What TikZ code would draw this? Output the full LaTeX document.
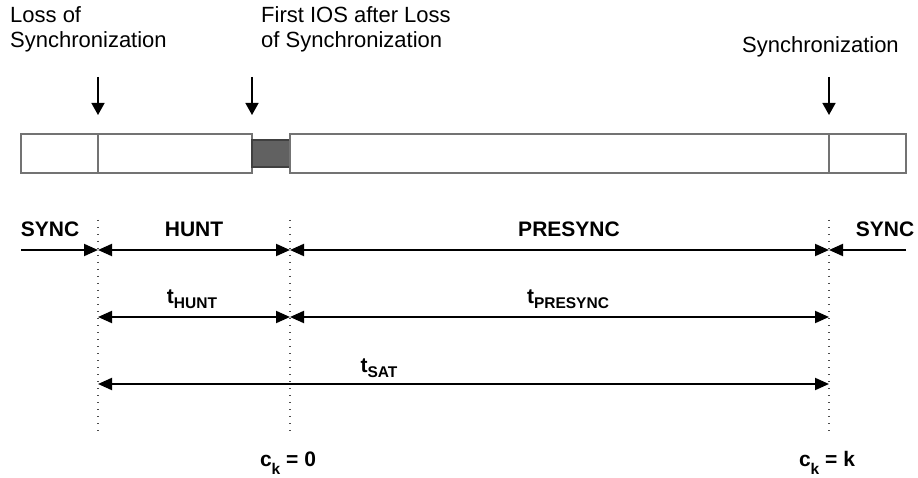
\documentclass[tikz,border=0pt]{standalone}
\usepackage{fontspec}
\setmainfont{Liberation Sans}
\usetikzlibrary{arrows.meta}

\tikzset{
  note/.style={font=\fontsize{22}{25.5}\selectfont, align=left, inner sep=0pt},
  phase/.style={font=\fontsize{21}{24}\selectfont\bfseries, inner sep=0pt, anchor=base},
  timing/.style={font=\fontsize{21}{24}\selectfont\bfseries, inner sep=0pt, anchor=base},
  span/.style={line width=2pt, {Triangle[length=14pt,width=12pt]}-{Triangle[length=14pt,width=12pt]}},
  eventarrow/.style={line width=1.5pt, -{Triangle[length=12pt,width=13pt]}},
  guide/.style={line width=1.6pt, black!70, dash pattern=on 1.4pt off 5.6pt},
  frame/.style={draw=black!55, line width=1.2pt, fill=white}
}
\newcommand{\sub}[2]{#1\raisebox{-5pt}{\fontsize{15.5}{15.5}\selectfont #2}}

\begin{document}
\begin{tikzpicture}[x=1pt,y=-1pt]
    \useasboundingbox (0,0) rectangle (918,478);

    % Texts above the frame
    \node[note, anchor=north west] (loss) at (10,6) {Loss of\\Synchronization};
    \node[note, anchor=north west] (first) at (261,6) {First IOS after Loss\\of Synchronization};
    \node[note, anchor=base west] (sync) at (742,53) {Synchronization};

    % Event markers
    \foreach \n/\x in {lossmark/98, iosmark/252, syncmark/829} {
        \coordinate (\n top) at (\x,77);
        \coordinate (\n tip) at (\x,115);
        \draw[eventarrow] (\n top) -- (\n tip);
    }

    % Bit stream
    \draw[frame] (21,134) rectangle (252,173);
    \draw[black!55, line width=1.2pt] (98,134) -- (98,173);
    \draw[draw=black!75, fill=black!62, line width=1.2pt] (252,140) rectangle (290,167);
    \draw[frame] (290,134) rectangle (906,173);
    \draw[black!55, line width=1.2pt] (829,134) -- (829,173);

    % Dotted guides and arrow ends
    \foreach \n/\x in {a/98, b/290, c/829} {
        \coordinate (\n top) at (\x,220);
        \coordinate (\n bot) at (\x,436);
        \draw[guide] (\n top) -- (\n bot);
        \coordinate (\n1) at (\x,250);
        \coordinate (\n2) at (\x,317);
        \coordinate (\n3) at (\x,384);
    }
    \coordinate (west1) at (21,250);
    \coordinate (east1) at (906,250);

    % States
    \draw[line width=2pt, -{Triangle[length=14pt,width=12pt]}] (west1) -- (a1);
    \draw[span] (a1) -- (b1);
    \draw[span] (b1) -- (c1);
    \draw[line width=2pt, -{Triangle[length=14pt,width=12pt]}] (east1) -- (c1);
    \node[phase] (syncl) at (50,237) {SYNC};
    \node[phase] (hunt) at (194,237) {HUNT};
    \node[phase] (presync) at (569,237) {PRESYNC};
    \node[phase] (syncr) at (885,237) {SYNC};

    % Durations
    \draw[span] (a2) -- (b2);
    \draw[span] (b2) -- (c2);
    \draw[span] (a3) -- (c3);
    \node[timing] (thunt) at (192,304) {\sub{t}{HUNT}};
    \node[timing] (tpresync) at (568,304) {\sub{t}{PRESYNC}};
    \node[timing] (tsat) at (379,372) {\sub{t}{SAT}};

    % Counter values
    \node[timing] (czero) at (288,466) {c\raisebox{-8pt}{\fontsize{15.5}{15.5}\selectfont k} = 0};
    \node[timing] (ck) at (827,466) {c\raisebox{-8pt}{\fontsize{15.5}{15.5}\selectfont k} = k};
\end{tikzpicture}
\end{document}
